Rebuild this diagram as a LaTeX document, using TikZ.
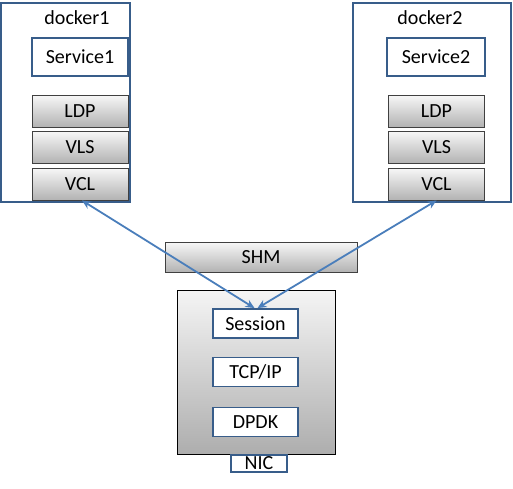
\documentclass[tikz,border=0pt]{standalone}
\usepackage{fontspec}
\setmainfont{Carlito}
\usetikzlibrary{arrows.meta}
\definecolor{boxblue}{HTML}{385D8A}
\definecolor{linkblue}{HTML}{4A7EBB}
\tikzset{
  docker/.style={draw=boxblue,line width=1.8pt,minimum width=#1,minimum height=199pt,inner sep=0pt},
  svc/.style={draw=boxblue,line width=1.8pt,fill=white,minimum width=#1,minimum height=38pt,inner sep=0pt},
  layer/.style={draw=black!75,line width=0.9pt,top color=black!3,bottom color=black!30,minimum width=96pt,minimum height=32pt,inner sep=0pt},
  stackbox/.style={draw=boxblue,line width=1.8pt,fill=white,minimum width=85pt,minimum height=29pt,inner sep=0pt},
  link/.style={linkblue,line width=1.8pt,{Stealth[length=9pt,width=8pt]}-{Stealth[length=9pt,width=8pt]}}
}
\begin{document}
\begin{tikzpicture}[x=1pt,y=-1pt,font=\fontsize{20}{22}\selectfont]
\useasboundingbox (0,0) rectangle (513,488);
% docker 1
\node[docker=129pt] (d1) at (65.5,102.5) {};
\node (d1lbl) at (77,18) {docker1};
\node[svc=96pt] (svc1) at (80,57) {Service1};
\node[layer] (ldp1) at (80,111) {LDP};
\node[layer] (vls1) at (80,147) {VLS};
\node[layer] (vcl1) at (80,184) {VCL};
% docker 2
\node[docker=158pt] (d2) at (432,102.5) {};
\node (d2lbl) at (430,18) {docker2};
\node[svc=98pt] (svc2) at (436,57) {Service2};
\node[layer] (ldp2) at (436.5,111) {LDP};
\node[layer] (vls2) at (436.5,147) {VLS};
\node[layer] (vcl2) at (436.5,184) {VCL};
% host stack
\node[layer,minimum width=192pt,minimum height=30pt] (shm) at (261,257) {SHM};
\node[draw=black,line width=0.8pt,top color=black!4,bottom color=black!32,minimum width=158pt,minimum height=164pt] (host) at (256,372) {};
\node[stackbox] (sess) at (255.5,323.5) {Session};
\node[stackbox] (tcp) at (255.5,372) {TCP/IP};
\node[stackbox] (dpdk) at (255.5,422) {DPDK};
\node[draw=boxblue,line width=1.8pt,fill=white,minimum width=56pt,minimum height=17pt,inner sep=0pt] (nic) at (259,463.5) {NIC};
% links
\draw[link] ([xshift=2pt]vcl1.south) -- ([xshift=-1pt]sess.north);
\draw[link] (vcl2.south) -- ([xshift=2pt]sess.north);
\end{tikzpicture}
\end{document}
